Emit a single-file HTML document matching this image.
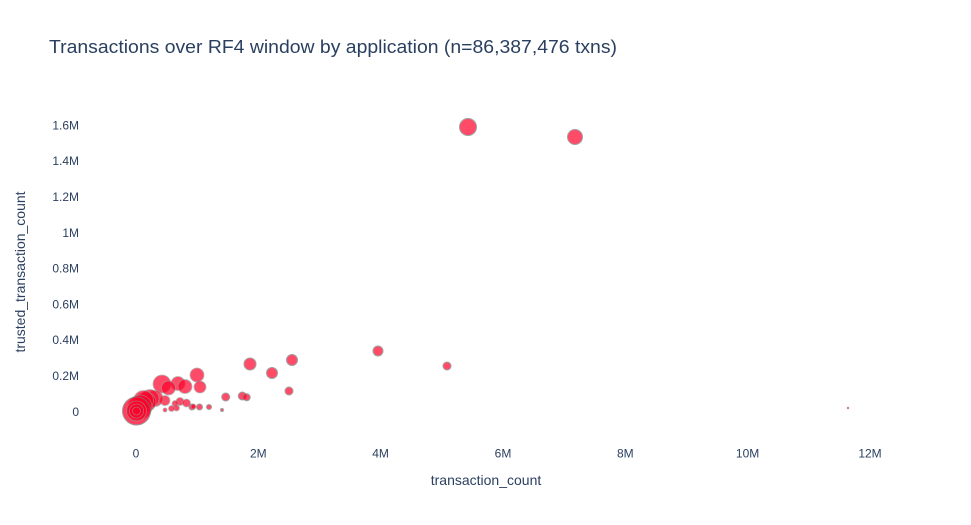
<!DOCTYPE html>
<html>
<head>
<meta charset="utf-8">
<style>
  html, body { margin:0; padding:0; background:#fff; }
  svg { display:block; }
  text { font-family: "Liberation Sans", "DejaVu Sans", sans-serif; fill:#2a3f5f; }
</style>
</head>
<body>
<svg width="971" height="525" viewBox="0 0 971 525" xmlns="http://www.w3.org/2000/svg">
  <rect x="0" y="0" width="971" height="525" fill="#fff"/>

  <!-- Title -->
  <text x="49" y="53" font-size="18" textLength="568" lengthAdjust="spacingAndGlyphs">Transactions over RF4 window by application (n=86,387,476 txns)</text>

  <!-- Y tick labels -->
  <g font-size="12" text-anchor="end">
    <text x="79" y="415.8">0</text>
    <text x="79" y="380">0.2M</text>
    <text x="79" y="344.2">0.4M</text>
    <text x="79" y="308.4">0.6M</text>
    <text x="79" y="272.6">0.8M</text>
    <text x="79" y="236.8">1M</text>
    <text x="79" y="201">1.2M</text>
    <text x="79" y="165.2">1.4M</text>
    <text x="79" y="129.4">1.6M</text>
  </g>

  <!-- X tick labels -->
  <g font-size="12" text-anchor="middle">
    <text x="136" y="457.5">0</text>
    <text x="258.3" y="457.5">2M</text>
    <text x="380.6" y="457.5">4M</text>
    <text x="503" y="457.5">6M</text>
    <text x="625.3" y="457.5">8M</text>
    <text x="747.6" y="457.5">10M</text>
    <text x="870" y="457.5">12M</text>
  </g>

  <!-- Axis titles -->
  <text x="486" y="485" font-size="14" text-anchor="middle">transaction_count</text>
  <text x="0" y="0" font-size="14" text-anchor="middle" transform="translate(25,272) rotate(-90)">trusted_transaction_count</text>

  <!-- Markers -->
  <g fill="rgb(255,0,40)" stroke="rgb(120,120,120)" stroke-width="1">
    <!-- isolated -->
    <circle cx="468" cy="127" r="8.5" opacity="0.7"/>
    <circle cx="575" cy="137" r="7.5" opacity="0.7"/>
    <circle cx="250" cy="364" r="6" opacity="0.7"/>
    <circle cx="292" cy="360" r="5.5" opacity="0.7"/>
    <circle cx="378" cy="351" r="5" opacity="0.7"/>
    <circle cx="447" cy="366" r="4" opacity="0.7"/>
    <circle cx="272" cy="373" r="5.5" opacity="0.7"/>
    <circle cx="289" cy="391" r="4" opacity="0.7"/>
    <circle cx="225.7" cy="397" r="4" opacity="0.7"/>
    <circle cx="242.3" cy="396" r="4" opacity="0.7"/>
    <circle cx="246.7" cy="397.3" r="3.5" opacity="0.7"/>
    <circle cx="209" cy="407" r="2.5" opacity="0.7"/>
    <circle cx="199.5" cy="407" r="3" opacity="0.7"/>
    <circle cx="192" cy="407" r="3" opacity="0.7"/>
    <circle cx="222" cy="410" r="1.5" opacity="0.7"/>
    <circle cx="848" cy="408" r="1" opacity="0.7" stroke-width="0.5"/>
  </g>
  <g fill="rgb(255,0,40)" stroke="rgb(150,150,150)" stroke-width="0.8">
    <!-- cluster -->
    <circle cx="197" cy="375" r="7" opacity="0.7"/>
    <circle cx="200" cy="387" r="6" opacity="0.7"/>
    <circle cx="162" cy="384" r="9" opacity="0.7"/>
    <circle cx="178" cy="383.5" r="7" opacity="0.7"/>
    <circle cx="185" cy="386.5" r="7" opacity="0.7"/>
    <circle cx="168.5" cy="388" r="7" opacity="0.7"/>
    <circle cx="165" cy="400.5" r="5" opacity="0.7"/>
    <circle cx="180" cy="401.5" r="4" opacity="0.7"/>
    <circle cx="186.5" cy="403" r="4" opacity="0.7"/>
    <circle cx="175" cy="403.5" r="3" opacity="0.7"/>
    <circle cx="176.5" cy="408" r="3" opacity="0.7"/>
    <circle cx="171.5" cy="408.5" r="3" opacity="0.7"/>
    <circle cx="193.5" cy="406.5" r="2.5" opacity="0.7"/>
    <circle cx="165" cy="410" r="2" opacity="0.7"/>
    <circle cx="155" cy="398.5" r="8" opacity="0.7"/>
    <circle cx="150" cy="398.5" r="9" opacity="0.7"/>
    <circle cx="146" cy="402" r="10" opacity="0.7"/>
    <circle cx="143.5" cy="400.5" r="10" opacity="0.7"/>
    <circle cx="140" cy="407" r="12" opacity="0.7"/>
    <circle cx="136.5" cy="411" r="14" opacity="0.75" stroke="rgb(120,120,120)" stroke-width="1"/>
    <circle cx="136.5" cy="411" r="10" opacity="0.7"/>
    <circle cx="136.5" cy="411" r="7" opacity="0.7"/>
    <circle cx="136.5" cy="411" r="4" opacity="0.7"/>
  </g>
</svg>
</body>
</html>
